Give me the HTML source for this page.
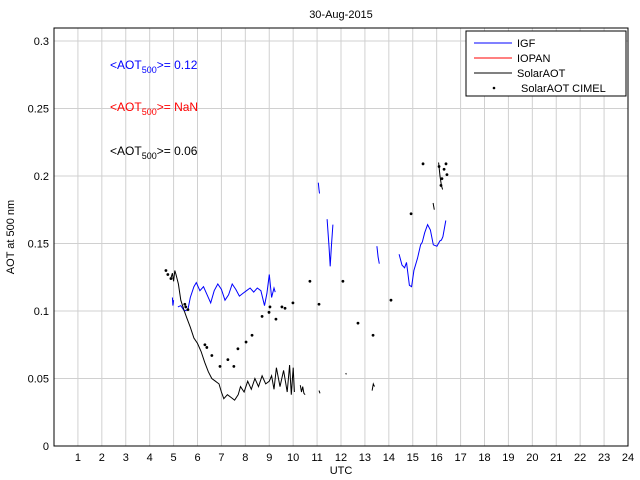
<!DOCTYPE html>
<html><head><meta charset="utf-8"><style>
body{margin:0;background:#fff;}
svg{display:block;font-family:"Liberation Sans",sans-serif;}
</style></head><body>
<svg id="chart" width="640" height="480">
<rect x="0" y="0" width="640" height="480" fill="#fff"/>
<g id="grid"></g>
<g id="series"></g>
<rect x="54" y="28" width="574" height="418" fill="none" stroke="#000" stroke-width="1"/>
<g id="ticks"></g>
<text x="341" y="18" font-size="11" text-anchor="middle">30-Aug-2015</text>
<text x="341" y="474" font-size="11" text-anchor="middle">UTC</text>
<text x="14" y="237" font-size="11" text-anchor="middle" transform="rotate(-90 14 237)">AOT at 500 nm</text>
<text x="110" y="69" font-size="12" fill="#0000ff">&lt;AOT<tspan font-size="9" dy="4">500</tspan><tspan dy="-4">&gt;= 0.12</tspan></text>
<text x="110" y="111" font-size="12" fill="#ff0000">&lt;AOT<tspan font-size="9" dy="4">500</tspan><tspan dy="-4">&gt;=  NaN</tspan></text>
<text x="110" y="155" font-size="12" fill="#000">&lt;AOT<tspan font-size="9" dy="4">500</tspan><tspan dy="-4">&gt;= 0.06</tspan></text>
<g>
<rect x="466" y="31" width="160" height="65" fill="#fff" stroke="#000" stroke-width="1"/>
<line x1="474" y1="43" x2="512" y2="43" stroke="#0000ff"/>
<text x="517" y="47" font-size="11">IGF</text>
<line x1="474" y1="58" x2="512" y2="58" stroke="#ff0000"/>
<text x="517" y="62" font-size="11">IOPAN</text>
<line x1="474" y1="73" x2="512" y2="73" stroke="#000"/>
<text x="517" y="77" font-size="11">SolarAOT</text>
<circle cx="494" cy="88" r="1.3" fill="#000"/>
<text x="521" y="92" font-size="11">SolarAOT CIMEL</text>
</g>
</svg>
<script>
const xTicks=[1,2,3,4,5,6,7,8,9,10,11,12,13,14,15,16,17,18,19,20,21,22,23,24];
const yTicks=[0,0.05,0.1,0.15,0.2,0.25,0.3];
const yTickLabels=["0","0.05","0.1","0.15","0.2","0.25","0.3"];
// IGF segments (NaN = gap)
const igfTime=[4.95,4.97,5.0,NaN,5.18,5.3,5.45,5.6,5.7,5.85,5.95,6.1,6.25,6.4,6.55,6.7,6.85,7.0,7.15,7.3,7.45,7.6,7.75,7.9,8.05,8.2,8.35,8.5,8.65,8.8,8.9,9.0,9.1,9.2,9.25,NaN,11.05,11.08,11.1,NaN,11.42,11.5,11.55,11.6,11.66,NaN,13.5,13.55,13.6,NaN,14.43,14.55,14.66,14.74,14.86,14.95,15.05,15.2,15.33,15.4,15.5,15.62,15.74,15.86,16.01,16.14,16.2,16.26,16.38];
const igfVal=[0.11,0.104,0.108,NaN,0.103,0.104,0.1,0.101,0.11,0.118,0.121,0.115,0.118,0.112,0.106,0.115,0.12,0.116,0.108,0.112,0.12,0.116,0.111,0.113,0.115,0.117,0.114,0.117,0.115,0.104,0.113,0.127,0.11,0.117,0.114,NaN,0.195,0.19,0.187,NaN,0.168,0.148,0.133,0.148,0.164,NaN,0.148,0.14,0.135,NaN,0.142,0.134,0.132,0.136,0.119,0.118,0.13,0.139,0.149,0.151,0.158,0.164,0.16,0.149,0.148,0.152,0.1525,0.155,0.167];
// SolarAOT segments
const solTime=[4.9,4.95,5.0,5.05,5.1,5.2,5.3,5.45,5.55,5.7,5.85,6.0,6.15,6.3,6.45,6.6,6.75,6.9,7.0,7.1,7.25,7.4,7.55,7.7,7.8,7.95,8.1,8.25,8.4,8.55,8.7,8.85,9.0,9.1,9.2,9.3,9.45,9.6,9.75,9.85,9.92,10.0,10.05,NaN,10.3,10.35,10.4,10.45,10.5,NaN,11.08,11.12,NaN,12.2,12.22,NaN,13.3,13.35,13.4,NaN,15.85,15.9,NaN,16.08,16.14,16.2,16.25];
const solVal=[0.125,0.128,0.122,0.13,0.127,0.12,0.108,0.1,0.095,0.088,0.08,0.076,0.07,0.062,0.055,0.05,0.048,0.046,0.04,0.035,0.038,0.036,0.034,0.038,0.044,0.04,0.048,0.042,0.05,0.044,0.052,0.046,0.048,0.052,0.042,0.058,0.044,0.056,0.04,0.06,0.038,0.058,0.04,NaN,0.045,0.04,0.044,0.039,0.038,NaN,0.041,0.039,NaN,0.054,0.053,NaN,0.041,0.046,0.044,NaN,0.18,0.175,NaN,0.21,0.2,0.193,0.19];
// IOPAN
const iopanTime=[4,17.6];
const iopanVal=[0,0];
// CIMEL points
const cimelTime=[4.68,4.76,4.89,5.47,5.51,5.6,6.31,6.39,6.6,6.94,7.27,7.52,7.69,8.03,8.28,8.7,8.99,9.03,9.28,9.53,9.66,9.99,10.7,11.08,12.08,12.71,13.34,14.09,14.93,15.43,16.1,16.39,16.31,16.43,16.22,16.18];
const cimelVal=[0.13,0.127,0.124,0.105,0.103,0.101,0.075,0.073,0.067,0.059,0.064,0.059,0.072,0.077,0.082,0.096,0.099,0.103,0.094,0.103,0.102,0.106,0.122,0.105,0.122,0.091,0.082,0.108,0.172,0.209,0.207,0.209,0.205,0.201,0.198,0.193];

const X0=54,X1=628,Y0=446,Y1=28,XMAX=24,YMAX=0.3096;
const sx=h=>X0+(X1-X0)*h/XMAX;
const sy=v=>Y0-(Y0-Y1)*v/YMAX;
const NS="http://www.w3.org/2000/svg";
const grid=document.getElementById('grid'),ticks=document.getElementById('ticks'),series=document.getElementById('series');
function mk(tag,attrs,parent){const e=document.createElementNS(NS,tag);for(const k in attrs)e.setAttribute(k,attrs[k]);parent.appendChild(e);return e;}
xTicks.forEach(t=>{
  const x=sx(t);
  const g=mk('line',{x1:x,x2:x,y1:Y1,y2:Y0,stroke:'#d0d0d0','stroke-width':1},grid);
  
  
  const l=mk('text',{x:x,y:Y0+15,'font-size':11,'text-anchor':'middle'},ticks);
  l.textContent=t;
  
  
});
yTicks.forEach((t,i)=>{
  const y=sy(t);
  if(t>0){const g=mk('line',{x1:X0,x2:X1,y1:y,y2:y,stroke:'#d0d0d0','stroke-width':1},grid);
  
  }
  const l=mk('text',{x:X0-5,y:y+4,'font-size':11,'text-anchor':'end'},ticks);
  l.textContent=yTickLabels[i];
  
  
});
function drawLine(ts,vs,color,name){
  let d='',pen=false;
  for(let i=0;i<ts.length;i++){
    if(isNaN(ts[i])||isNaN(vs[i])){pen=false;continue;}
    d+=(pen?'L':'M')+sx(ts[i]).toFixed(1)+' '+sy(vs[i]).toFixed(1)+' ';pen=true;
  }
  const p=mk('path',{d:d,fill:'none',stroke:color,'stroke-width':1},series);
  
  
}
drawLine(iopanTime,iopanVal,'#ff0000','iopan-line');
drawLine(igfTime,igfVal,'#0000ff','igf-line');
drawLine(solTime,solVal,'#000000','solaraot-line');
cimelTime.forEach((t,i)=>{
  const c=mk('circle',{cx:sx(t),cy:sy(cimelVal[i]),r:1.4,fill:'#000'},series);
  
  
});
</script>
</body></html>
